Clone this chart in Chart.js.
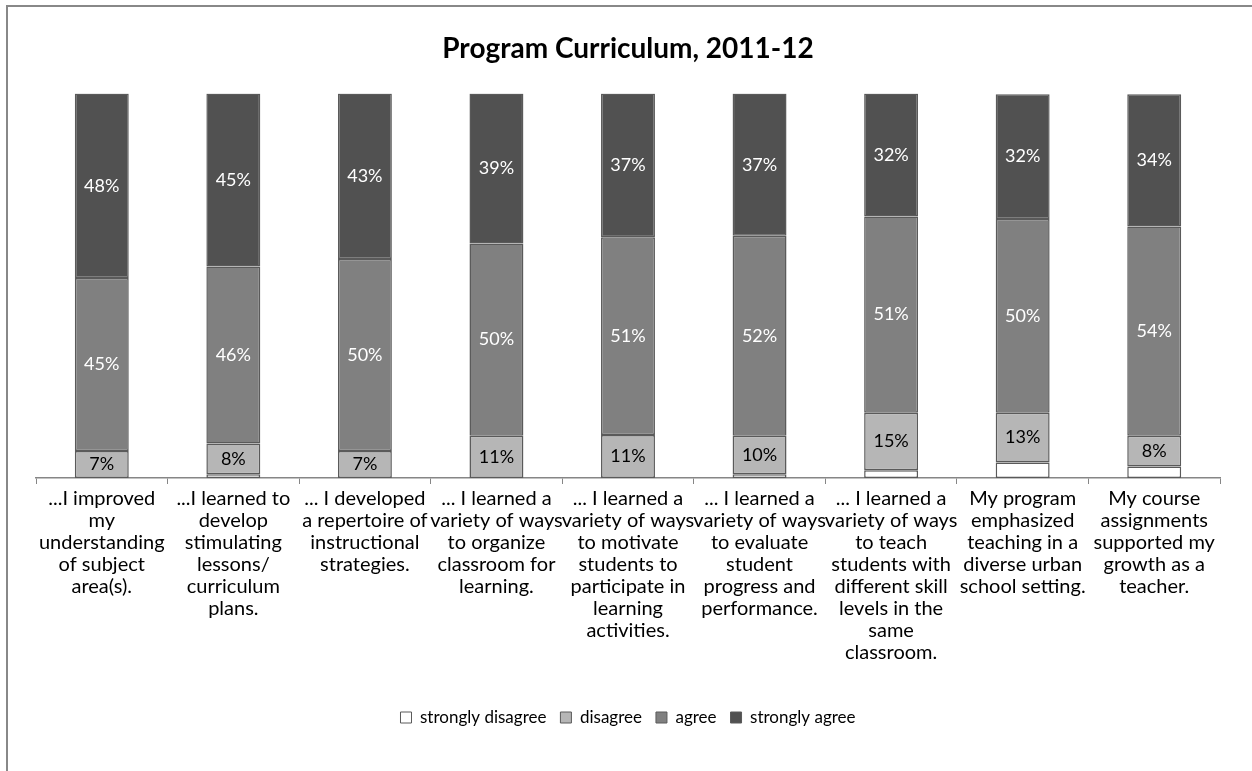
<!DOCTYPE html>
<html>
<head>
<meta charset="utf-8">
<title>Program Curriculum, 2011-12</title>
<script src="https://cdn.jsdelivr.net/npm/chart.js@4"></script>
<style>
  body { margin: 0; background: #fff; }
  #wrap { position: relative; width: 1252px; height: 771px; overflow: hidden; }
  #frame { position: absolute; left: 6px; top: 5px; width: 1300px; height: 900px;
           border-left: 2px solid #888; border-top: 2px solid #888; }
  #chart-1 { position: absolute; left: 0; top: 0; }
</style>
</head>
<body>
<div id="wrap">
  <div id="frame"></div>
  <canvas id="chart-1" width="1252" height="771"></canvas>
</div>
<script>
// survey statements (wrapped the way they are printed under each bar)
var statements = [
  ["...I improved", "my", "understanding", "of subject", "area(s)."],
  ["...I learned to", "develop", "stimulating", "lessons/", "curriculum", "plans."],
  ["... I developed", "a repertoire of", "instructional", "strategies."],
  ["... I learned a", "variety of ways", "to organize", "classroom for", "learning."],
  ["... I learned a", "variety of ways", "to motivate", "students to", "participate in", "learning", "activities."],
  ["... I learned a", "variety of ways", "to evaluate", "student", "progress and", "performance."],
  ["... I learned a", "variety of ways", "to teach", "students with", "different skill", "levels in the", "same", "classroom."],
  ["My program", "emphasized", "teaching in a", "diverse urban", "school setting."],
  ["My course", "assignments", "supported my", "growth as a", "teacher."]
];

// percent of respondents (unrounded where the shown figures don't add to 100)
var stronglyDisagree = [0, 1, 0, 0, 0, 1, 2, 4, 3];
var disagree         = [7, 8, 7, 11, 11.2, 10, 15, 13, 8];
var agree            = [45, 46, 50, 50, 51.4, 52, 51, 50.4, 54.4];
var stronglyAgree    = [48, 45, 43, 39, 37.4, 37, 32, 32.4, 34.4];

var fontFamily = "Lato, 'Open Sans', sans-serif";

// writes the percentage in the middle of each segment
var segmentLabels = {
  id: "segmentLabels",
  afterDatasetsDraw: function (chart) {
    var ctx = chart.ctx;
    ctx.save();
    ctx.font = "18px " + fontFamily;
    ctx.textAlign = "center";
    ctx.textBaseline = "middle";
    chart.data.datasets.forEach(function (ds, i) {
      if (!ds.showLabels) return;
      chart.getDatasetMeta(i).data.forEach(function (bar, j) {
        var v = ds.data[j];
        if (!v) return;
        ctx.fillStyle = ds.labelColor;
        ctx.fillText(Math.round(v) + "%", bar.x, (bar.y + bar.base) / 2);
      });
    });
    ctx.restore();
  }
};

const ctx1 = document.getElementById("chart-1").getContext("2d");
const myChart = new Chart(ctx1, {
  type: "bar",
  data: {
    labels: statements,
    datasets: [
      { label: "strongly disagree", data: stronglyDisagree, backgroundColor: "#ffffff", showLabels: false },
      { label: "disagree", data: disagree, backgroundColor: "#b6b6b6", showLabels: true, labelColor: "#000000" },
      { label: "agree", data: agree, backgroundColor: "#808080", showLabels: true, labelColor: "#ffffff" },
      { label: "strongly agree", data: stronglyAgree, backgroundColor: "#515151", showLabels: true, labelColor: "#ffffff" }
    ].map(function (ds) {
      ds.borderColor = "#5a5a5a";
      ds.borderWidth = 1.5;
      ds.borderSkipped = false;
      ds.barPercentage = 0.41;
      ds.categoryPercentage = 1.0;
      return ds;
    })
  },
  options: {
    responsive: false,
    animation: false,
    layout: { padding: { left: 36, right: 32, top: 22, bottom: 35 } },
    plugins: {
      title: {
        display: true,
        text: "Program Curriculum, 2011-12",
        color: "#000",
        font: { family: fontFamily, size: 28, weight: "bold" },
        padding: { top: 10, bottom: 28 }
      },
      legend: {
        position: "bottom",
        labels: {
          color: "#000",
          font: { family: fontFamily, size: 17 },
          boxWidth: 11,
          boxHeight: 11,
          padding: 14,
          generateLabels: function (chart) {
            return chart.data.datasets.map(function (ds, i) {
              return {
                text: ds.label,
                fillStyle: ds.backgroundColor,
                strokeStyle: "#5a5a5a",
                lineWidth: 1,
                datasetIndex: i
              };
            });
          }
        }
      },
      tooltip: { enabled: false }
    },
    scales: {
      x: {
        stacked: true,
        offset: true,
        afterFit: function (scale) {
          // leave some room between the statements and the legend
          scale.height += 27;
        },
        grid: {
          offset: true,
          drawOnChartArea: false,
          drawTicks: true,
          tickLength: 6,
          color: "#868686"
        },
        border: { color: "#868686", width: 1.5 },
        ticks: {
          color: "#000",
          maxRotation: 0,
          autoSkip: false,
          padding: 4,
          font: { family: fontFamily, size: 20, lineHeight: 1.1 }
        }
      },
      y: {
        stacked: true,
        display: false,
        min: 0,
        max: 100
      }
    }
  },
  plugins: [segmentLabels]
});
</script>
</body>
</html>
